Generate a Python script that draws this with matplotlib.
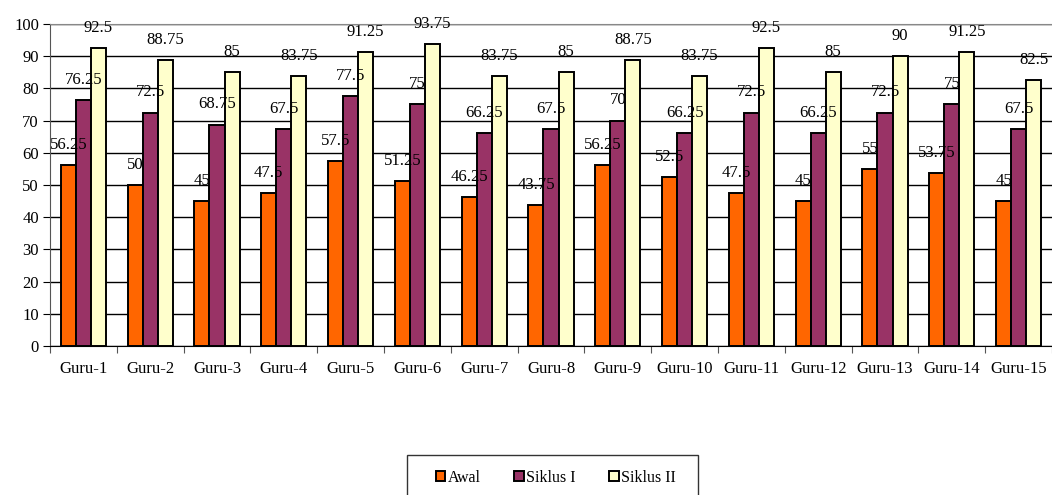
import numpy as np
import matplotlib
matplotlib.use("Agg")
import matplotlib.pyplot as plt
from matplotlib.patches import Rectangle

plt.rcParams['font.family'] = ['Liberation Serif', 'DejaVu Serif']

# Nilai tiap guru per tahap
guru = ['Guru-%d' % i for i in range(1, 16)]
awal = [56.25, 50, 45, 47.5, 57.5, 51.25, 46.25, 43.75, 56.25, 52.5, 47.5, 45, 55, 53.75, 45]
siklus1 = [76.25, 72.5, 68.75, 67.5, 77.5, 75, 66.25, 67.5, 70, 66.25, 72.5, 66.25, 72.5, 75, 67.5]
siklus2 = [92.5, 88.75, 85, 83.75, 91.25, 93.75, 83.75, 85, 88.75, 83.75, 92.5, 85, 90, 91.25, 82.5]

series = [('Awal', awal, '#FF6600'),
          ('Siklus I', siklus1, '#993366'),
          ('Siklus II', siklus2, '#FFFFCC')]

W, H = 1052, 495
fig = plt.figure(figsize=(W / 100, H / 100), dpi=100)
ax = fig.add_axes([50 / W, 1 - 346 / H, 1 - 50 / W, (346 - 24) / H])

x = np.arange(len(guru)) + 0.5
w = 0.225
for i, (name, vals, col) in enumerate(series):
    bars = ax.bar(x + (i - 1) * w, vals, w, color=col, edgecolor='black',
                  linewidth=1.4, label=name, zorder=3)
    for b, v in zip(bars, vals):
        ax.annotate('%g' % v, (b.get_x() + b.get_width() / 2, v),
                    xytext=(0, 14.5), textcoords='offset points',
                    ha='center', va='center', fontsize=12, zorder=4)

ax.set_xlim(0, len(guru))
ax.set_ylim(0, 100)
ax.set_yticks(range(0, 101, 10))
ax.yaxis.grid(True, color='black', linewidth=1.0, zorder=0)
ax.set_xticks(np.arange(len(guru) + 1))
ax.set_xticklabels([])
ax.set_xticks(x, minor=True)
ax.set_xticklabels(guru, minor=True)
ax.tick_params(axis='x', which='minor', length=0, pad=11, labelsize=12)
ax.tick_params(axis='x', which='major', length=5, color='#555555')
ax.tick_params(axis='y', length=5, labelsize=12, pad=3)

ax.spines['right'].set_visible(False)
ax.spines['top'].set_color('#888888')
ax.spines['left'].set_color('#555555')
ax.spines['bottom'].set_color('black')

# legenda di bawah, kotaknya terpotong tepi bawah gambar
fig.patches.append(Rectangle((407 / W, 1 - 502 / H), 291 / W, 47 / H,
                             transform=fig.transFigure, fill=False,
                             edgecolor='#333333', linewidth=1.0))
fig.legend(loc='center', bbox_to_anchor=(556 / W, 1 - 478 / H),
           ncol=3, fontsize=11.5, frameon=False,
           handlelength=0.6, handleheight=0.6, handletextpad=0.15,
           columnspacing=2.1, borderpad=0, borderaxespad=0)

fig.savefig('out.png', dpi=100)
